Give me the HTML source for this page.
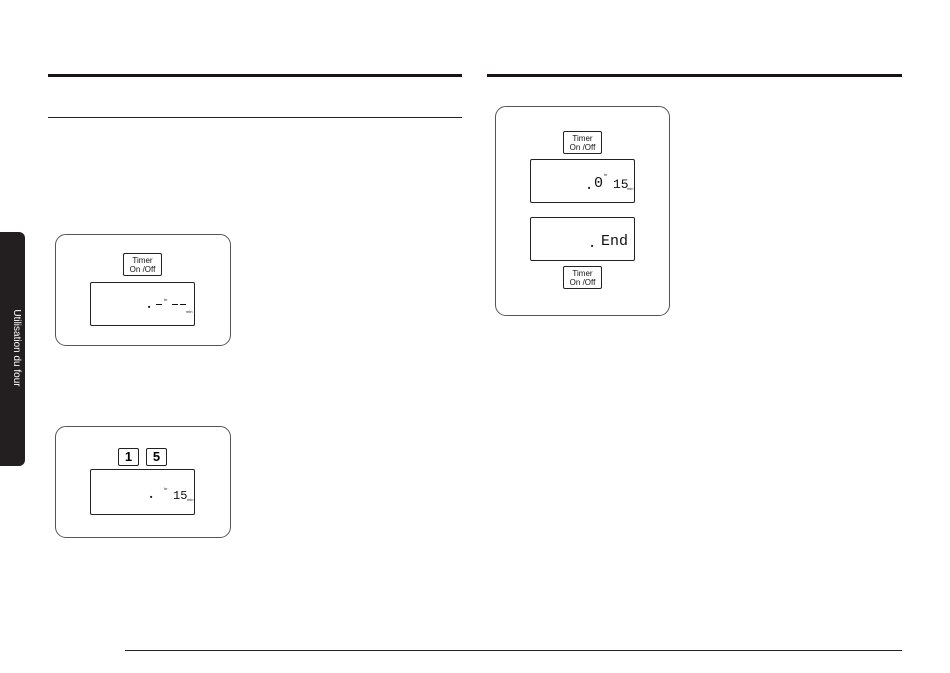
<!DOCTYPE html>
<html><head><style>
body{margin:0;width:950px;height:673px;background:#fff;position:relative;overflow:hidden;font-family:"Liberation Sans",sans-serif}
.a{position:absolute}
.box{position:absolute;border:1px solid #555;border-radius:11px;box-sizing:border-box}
.lcd{position:absolute;border:1.5px solid #222;border-radius:2px;box-sizing:border-box}
.btn{position:absolute;border:1px solid #222;border-radius:2px;box-sizing:border-box;font-size:8px;line-height:9px;text-align:center;padding-top:2px;color:#111}
.key{position:absolute;border:1.5px solid #222;border-radius:2px;box-sizing:border-box;font-size:13px;font-weight:bold;text-align:center;line-height:15px}
.s{position:absolute;font-size:4px;color:#222}
.seg{position:absolute;font-family:"Liberation Mono",monospace;color:#111}
</style></head><body>
<div class="a" style="left:48px;top:74px;width:414px;height:3px;background:#1a1414"></div>
<div class="a" style="left:487px;top:74px;width:415px;height:3px;background:#1a1414"></div>
<div class="a" style="left:48px;top:117px;width:414px;height:1px;background:#222"></div>
<div class="a" style="left:125px;top:650px;width:777px;height:1px;background:#222"></div>
<div class="a" style="left:0;top:232px;width:25px;height:234px;background:#231f20;border-radius:0 6px 6px 0"></div>
<div class="a" style="left:4px;top:348px;width:160px;margin-left:-68px;margin-top:-7px;transform:rotate(90deg);color:#fff;font-size:10px;text-align:center;line-height:14px">Utilisation du four</div>

<div class="box" style="left:55px;top:234px;width:176px;height:112px"></div>
<div class="btn" style="left:123px;top:253px;width:39px;height:23px">Timer<br>On /Off</div>
<div class="lcd" style="left:90px;top:282px;width:105px;height:44px"></div>
<div class="s" style="left:148px;top:304px">■</div>
<div class="a" style="left:156px;top:304px;width:6px;height:1px;background:#111"></div>
<div class="s" style="left:164px;top:297px">hr</div>
<div class="a" style="left:172px;top:304px;width:6px;height:1px;background:#111"></div>
<div class="a" style="left:180px;top:304px;width:6px;height:1px;background:#111"></div>
<div class="s" style="left:186px;top:309px">min</div>

<div class="box" style="left:55px;top:426px;width:176px;height:112px"></div>
<div class="key" style="left:118px;top:448px;width:21px;height:18px">1</div>
<div class="key" style="left:146px;top:448px;width:21px;height:18px">5</div>
<div class="lcd" style="left:90px;top:469px;width:105px;height:46px"></div>
<div class="s" style="left:150px;top:494px">■</div>
<div class="s" style="left:164px;top:486px">hr</div>
<div class="seg" style="left:173px;top:489px;font-size:12px">15</div>
<div class="s" style="left:187px;top:497px">min</div>

<div class="box" style="left:495px;top:106px;width:175px;height:210px"></div>
<div class="btn" style="left:563px;top:131px;width:39px;height:23px">Timer<br>On /Off</div>
<div class="lcd" style="left:530px;top:159px;width:105px;height:44px"></div>
<div class="s" style="left:588px;top:185px">■</div>
<div class="seg" style="left:594px;top:175px;font-size:15px">0</div>
<div class="s" style="left:604px;top:172px">hr</div>
<div class="seg" style="left:613px;top:177px;font-size:13px">15</div>
<div class="s" style="left:627px;top:186px">min</div>
<div class="lcd" style="left:530px;top:217px;width:105px;height:44px"></div>
<div class="s" style="left:591px;top:243px">■</div>
<div class="seg" style="left:601px;top:233px;font-size:15px">End</div>
<div class="btn" style="left:563px;top:266px;width:39px;height:23px">Timer<br>On /Off</div>
</body></html>
